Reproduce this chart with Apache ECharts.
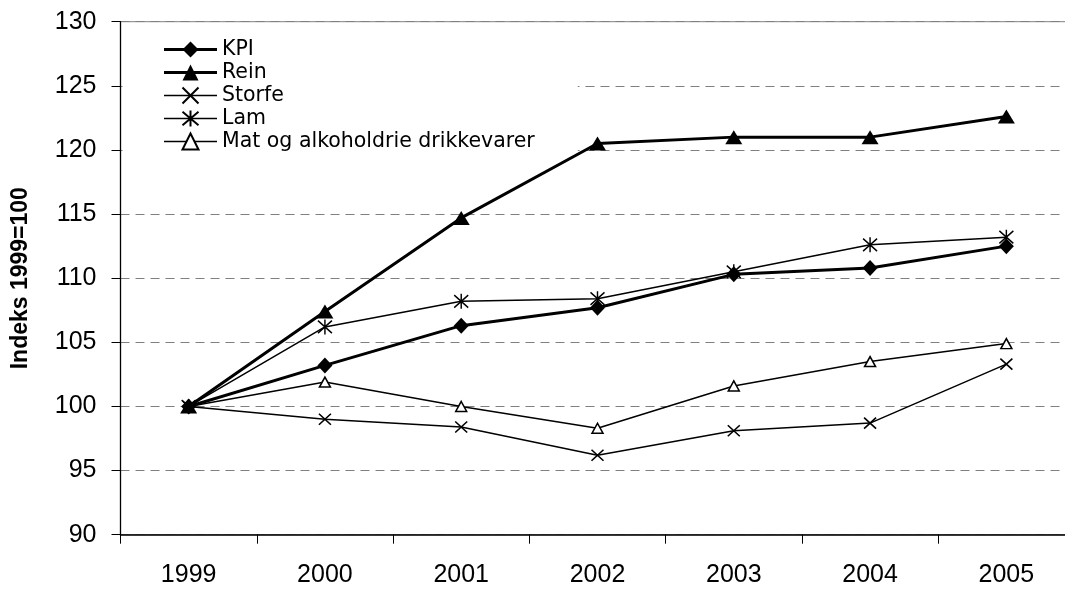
<!DOCTYPE html>
<html>
<head>
<meta charset="utf-8">
<script src="https://cdn.jsdelivr.net/npm/echarts@6/dist/echarts.min.js"></script>
<style>
  html, body { margin: 0; padding: 0; background: #fff; }
  #chart { width: 1065px; height: 589px; }
</style>
</head>
<body>
<div id="chart"></div>
<script>
// Price indices, 1999 = 100
const years = ['1999', '2000', '2001', '2002', '2003', '2004', '2005'];
const kpi    = [100, 103.2, 106.3, 107.7, 110.3, 110.8, 112.5];
const rein   = [100, 107.4, 114.7, 120.5, 121.0, 121.0, 122.6];
const storfe = [100, 99.0, 98.4, 96.2, 98.1, 98.7, 103.3];
const lam    = [100, 106.2, 108.2, 108.4, 110.5, 112.6, 113.2];
const mat    = [100, 101.9, 100.0, 98.3, 101.6, 103.5, 104.9];

const seriesNames = ['KPI', 'Rein', 'Storfe', 'Lam', 'Mat og alkoholdrie drikkevarer'];
const lineWidths = [3, 3, 1.5, 1.5, 1.5];

const FONT = '"Liberation Sans", Arial, sans-serif';
const CROSS = 'path://M0,0L10,10M10,0L0,10';
const STAR = 'path://M0,0L10,10M10,0L0,10M5,-1L5,11';

function lineSeries(name, data, width, symbol, size, fill, border, z) {
  return {
    name: name,
    type: 'line',
    data: data,
    symbol: symbol,
    symbolSize: size,
    showAllSymbol: true,
    z: z,
    lineStyle: { color: '#000', width: width },
    itemStyle: { color: fill, borderColor: '#000', borderWidth: border },
    emphasis: { disabled: true },
    animation: false
  };
}

const chart = echarts.init(document.getElementById('chart'), null, { renderer: 'canvas' });
chart.setOption({
  backgroundColor: '#fff',
  animation: false,
  grid: {
    left: 120.5, top: 21.7, width: 954, height: 513,
    outerBoundsMode: 'none',
    containLabel: false,
    show: true, borderColor: '#808080', borderWidth: 1, backgroundColor: 'transparent'
  },
  legend: {
    orient: 'vertical',
    left: 122.5, top: 23,
    padding: [16, 43, 16, 40],
    backgroundColor: '#fff',
    itemWidth: 53, itemHeight: 20, itemGap: 2,
    data: seriesNames.map((n, i) => ({ name: n, lineStyle: { width: lineWidths[i], color: '#000' } })),
    textStyle: { fontFamily: '"DejaVu Sans", sans-serif', fontSize: 20.5, color: '#000' },
    selectedMode: false
  },
  xAxis: {
    type: 'category',
    data: years,
    boundaryGap: true,
    axisLine: { lineStyle: { color: '#000', width: 1.5 } },
    axisTick: { show: true, length: 9, lineStyle: { color: '#000', width: 1 } },
    axisLabel: { fontFamily: FONT, fontSize: 25, color: '#000', margin: 28 },
    splitLine: { show: false }
  },
  yAxis: {
    type: 'value',
    min: 90, max: 130, interval: 5,
    name: 'Indeks 1999=100',
    nameLocation: 'middle',
    nameGap: 88,
    nameTextStyle: { fontFamily: FONT, fontSize: 23, fontWeight: 'bold', color: '#000' },
    axisLine: { show: true, lineStyle: { color: '#000', width: 1.3 } },
    axisTick: { show: true, length: 9, lineStyle: { color: '#000', width: 1 } },
    axisLabel: { fontFamily: FONT, fontSize: 25, color: '#000', margin: 24 },
    splitLine: { show: true, lineStyle: { color: '#808080', width: 1.2, type: [9, 6] } }
  },
  series: [
    lineSeries('KPI', kpi, 3, 'diamond', [15, 16], '#000', 0, 5),
    lineSeries('Rein', rein, 3, 'triangle', [17, 14], '#000', 0, 4),
    lineSeries('Storfe', storfe, 1.5, CROSS, [12, 11], '#000', 1.5, 3),
    lineSeries('Lam', lam, 1.5, STAR, [14, 15], '#000', 1.5, 3),
    lineSeries('Mat og alkoholdrie drikkevarer', mat, 1.5, 'triangle', [11, 10], '#fff', 1.5, 3)
  ]
});
</script>
</body>
</html>
